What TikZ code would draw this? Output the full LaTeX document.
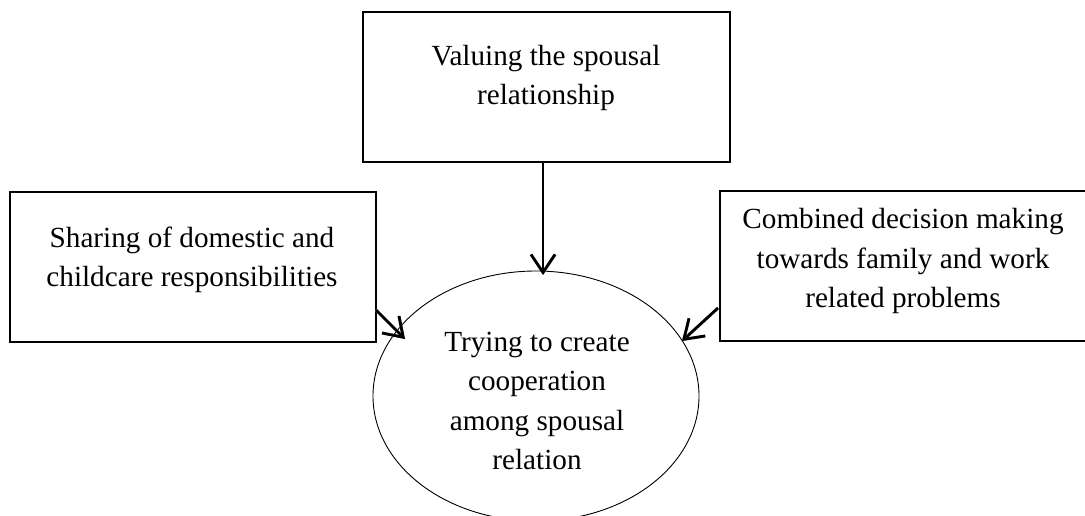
\documentclass[tikz,border=0pt]{standalone}
\usepackage{fontspec}
\setmainfont{Liberation Serif}
\usetikzlibrary{arrows.meta,shapes.geometric}
\tikzset{
  boxnode/.style={draw=black, line width=1.2pt, inner sep=0pt},
  txt/.style={align=center, font=\fontsize{29.2pt}{39.5pt}\selectfont, inner sep=0pt},
  arr/.style={line width=2.8pt, -{Straight Barb[length=18pt, width=24pt, line width=2.8pt]}},
  arrshadow/.style={arr, draw=black!35, shift={(2pt,2pt)}}
}
\begin{document}
\begin{tikzpicture}[x=1pt, y=-1pt]
\useasboundingbox[fill=white] (0,0) rectangle (1085,515);
% boxes
\node[boxnode, minimum width=367pt, minimum height=150pt] (top) at (546.5,87) {};
\node[boxnode, minimum width=366pt, minimum height=150pt] (left) at (193,267) {};
\node[boxnode, minimum width=380pt, minimum height=150pt] (right) at (910,266) {};
\node[draw=black, line width=0.9pt, ellipse, minimum width=326pt, minimum height=250pt, inner sep=0pt] (ell) at (536,396) {};
% texts
\node[txt] (ttop) at (546,78) {Valuing the spousal\\relationship};
\node[txt] (tleft) at (192,260) {Sharing of domestic and\\childcare responsibilities};
\node[txt] (tright) at (903,261) {Combined decision making\\towards family and work\\related problems};
\node[txt] (tell) at (537,401) {Trying to create\\cooperation\\among spousal\\relation};
% connector endpoints
\coordinate (a1) at (543,162);
\coordinate (a2) at (543,275);
\coordinate (b1) at (376,310);
\coordinate (b2) at (405,339);
\coordinate (c1) at (718,308);
\coordinate (c2) at (682,341);
% shadows
\draw[arrshadow] (a1) -- (a2);
\draw[arrshadow] (b1) -- (b2);
\draw[arrshadow] (c1) -- (c2);
% arrows
\draw[arr] (a1) -- (a2);
\draw[arr] (b1) -- (b2);
\draw[arr] (c1) -- (c2);
\end{tikzpicture}
\end{document}
